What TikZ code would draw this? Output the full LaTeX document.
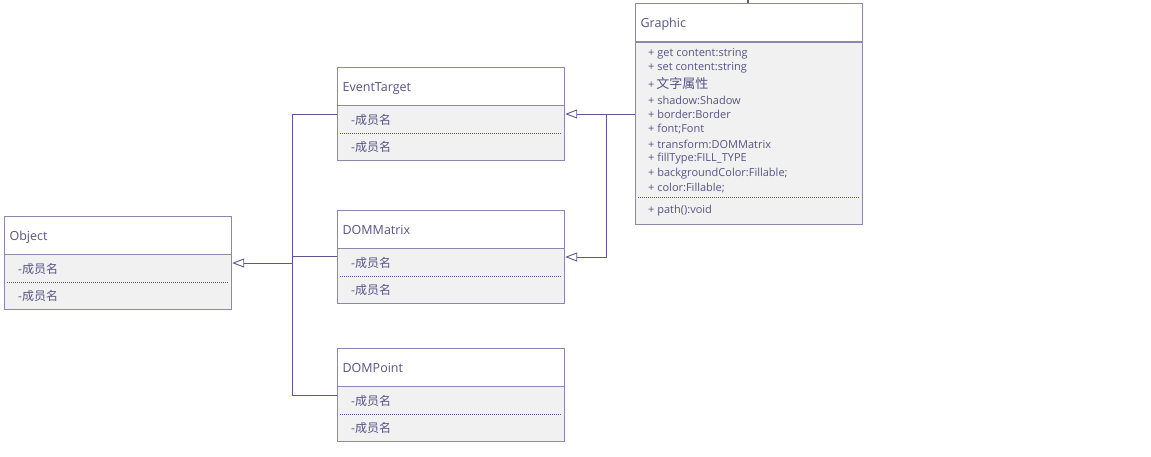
\documentclass[tikz,border=0pt]{standalone}
\usepackage{fontspec}
\setmainfont{Open Sans}
\newfontfamily\cjk{Noto Sans CJK SC}
\usetikzlibrary{arrows.meta}

\definecolor{umltext}{HTML}{575385}
\definecolor{umlline}{HTML}{5E5794}
\definecolor{umlbox}{HTML}{8C87AF}
\definecolor{umlfill}{HTML}{F1F1F1}

\tikzset{
    classhead/.style={draw=umlbox, line width=1.2pt, fill=white, anchor=north west,
        minimum width=227pt, minimum height=38pt, text width=217pt, inner xsep=5pt,
        text height=9pt, text depth=0pt,
        align=left, text=umltext, font=\fontsize{12.5}{14}\selectfont},
    classbody/.style={draw=umlbox, line width=1.2pt, fill=umlfill, anchor=north west,
        minimum width=227pt, inner sep=0pt},
    member/.style={anchor=west, inner sep=0pt, text=umltext, font=\fontsize{11}{12}\selectfont},
    field/.style={anchor=west, inner sep=0pt, text=umltext, font=\fontsize{12}{14}\selectfont},
    sep/.style={draw=umlline, line width=0.6pt, dash pattern=on 1pt off 1pt},
    conn/.style={draw=umlline, line width=0.9pt},
    inherit/.style={conn, -{Triangle[open, length=12pt, width=9pt, fill=white]}}
}

\begin{document}
\begin{tikzpicture}[x=1pt, y=-1pt]
    \useasboundingbox (0,0) rectangle (1151,456);

    % Draw Graphic class
    \node[classhead] (ghead) at (635,3) {Graphic};
    \node[classbody, minimum height=182pt] (gbody) at (635,42) {};
    \foreach \y/\t [count=\i] in {54/+ get content:string, 68/+ set content:string,
        100/+ shadow:Shadow, 114/+ border:Border, 129/+ font;Font,
        144/+ transform:DOMMatrix, 159/+ fillType:FILL\_TYPE,
        174/+ backgroundColor:Fillable;, 188/+ color:Fillable;}
        \node[member] (gattr\i) at (648,\y) {\t};
    \node[member] (gattrtext) at (648,84) {+\,{\cjk\fontsize{13}{14}\selectfont 文字属性}};
    \draw[sep] (638,197) -- (859,197);
    \node[member] (gmethod) at (648,211) {+ path():void};

    % Draw the other classes
    \foreach \name/\label/\x/\y/\dx in {et/EventTarget/337/67/14, dm/DOMMatrix/337/210/14,
        dp/DOMPoint/337/348/14, obj/Object/4/216/14} {
        \node[classhead] (\name head) at (\x,\y) {\label};
        \node[classbody, minimum height=55pt] (\name body) at (\x,\y+38) {};
        \node[field] (\name f1) at (\x+\dx,\y+53) {-{\cjk 成员名}};
        \draw[sep] (\x+3,\y+66) -- (\x+224,\y+66);
        \node[field] (\name f2) at (\x+\dx,\y+80) {-{\cjk 成员名}};
    }

    % Draw generalisation to Object
    \draw[conn] ([yshift=-9pt]etbody.north west) -- ++(-45,0) |- ([yshift=-9pt]dpbody.north west);
    \draw[conn] ([yshift=-8pt]dmbody.north west) -- ++(-45,0);
    \draw[inherit] ([xshift=61pt, yshift=-9pt]objbody.north east) -- ([yshift=-9pt]objbody.north east);

    % Draw generalisation from Graphic
    \coordinate (gsplit) at (606,114);
    \draw[inherit] ([yshift=-72pt]gbody.north west) -- ([yshift=-9pt]etbody.north east);
    \draw[inherit] (gsplit) |- ([yshift=-9pt]dmbody.north east);

    % Cut-off link above Graphic
    \draw[conn, line width=2pt] (ghead.north) ++(-1,0) -- ++(0,-4);
\end{tikzpicture}
\end{document}
